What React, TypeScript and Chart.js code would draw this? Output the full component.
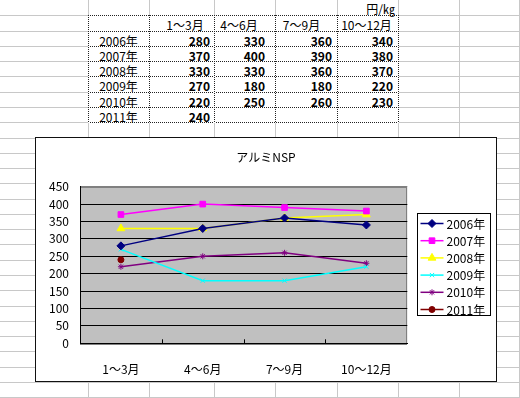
import React, { useEffect, useRef } from 'react';
import { Chart, registerables } from 'chart.js';
import { drawPoint } from 'chart.js/helpers';

Chart.register(...registerables);

// ---------- data ----------
const categories = ['1～3月', '4～6月', '7～9月', '10～12月'];
const years = ['2006年', '2007年', '2008年', '2009年', '2010年', '2011年'];
const v2006 = [280, 330, 360, 340];
const v2007 = [370, 400, 390, 380];
const v2008 = [330, 330, 360, 370];
const v2009 = [270, 180, 180, 220];
const v2010 = [220, 250, 260, 230];
const v2011 = [240, null, null, null];
const seriesValues = [v2006, v2007, v2008, v2009, v2010, v2011];
const seriesColors = ['#000080', '#FF00FF', '#FFFF00', '#00FFFF', '#800080', '#800000'];
const seriesMarkers = ['rectRot', 'rect', 'triangle', 'crossRot', 'star', 'circle'];
const markerRadii = [4, 4, 4.5, 3, 3, 3];
const yMin = 0;
const yMax = 450;
const yStep = 50;
const chartTitle = 'アルミNSP';
const unitLabel = '円/㎏';

// ---------- layout ----------
const FONT = '"Noto Sans CJK JP", "Noto Sans", sans-serif';
const colXs = [88, 149, 214, 275, 337, 398, 459, 519];
const rowYs = Array.from({ length: 26 }, (_, k) => Math.round((k + 1) * 15.28));
const headerCenters = [185, 239, 301.5, 366.5];
const valueRights = [210, 265, 332, 393];
const gridGray = '#c8c8c8';

const excelPlugin = {
  id: 'excelDecor',
  beforeDraw(chart: any) {
    const { ctx, chartArea: a } = chart;
    ctx.save();
    ctx.fillStyle = '#C0C0C0';
    ctx.fillRect(a.left, a.top, a.right - a.left, a.bottom - a.top);
    ctx.strokeStyle = '#808080';
    ctx.lineWidth = 1;
    ctx.strokeRect(Math.round(a.left) + 0.5, Math.round(a.top) + 0.5, Math.round(a.right - a.left) - 1, Math.round(a.bottom - a.top));
    ctx.restore();
  },
  afterDraw(chart: any) {
    const { ctx, chartArea: a } = chart;
    const xs = chart.scales.x;
    ctx.save();
    // inner tick marks between categories
    ctx.strokeStyle = '#000';
    ctx.lineWidth = 1;
    for (let i = 1; i < categories.length; i++) {
      const px = Math.round((xs.getPixelForValue(i - 1) + xs.getPixelForValue(i)) / 2) + 0.5;
      ctx.beginPath();
      ctx.moveTo(px, a.bottom);
      ctx.lineTo(px, a.bottom - 4);
      ctx.stroke();
    }
    // title
    ctx.fillStyle = '#000';
    ctx.font = `12px ${FONT}`;
    ctx.textAlign = 'center';
    ctx.textBaseline = 'middle';
    ctx.fillText(chartTitle, chart.width / 2, 19);
    // legend
    const lx = Math.round(a.right + 9.5) + 0.5;
    const ly = 75.5;
    const lw = 73;
    const lh = 102;
    ctx.fillStyle = '#fff';
    ctx.fillRect(lx, ly, lw, lh);
    ctx.strokeStyle = '#000';
    ctx.lineWidth = 1;
    ctx.strokeRect(lx, ly, lw, lh);
    chart.data.datasets.forEach((ds: any, i: number) => {
      const cy = ly + 10 + i * 17.2;
      ctx.strokeStyle = ds.borderColor;
      ctx.lineWidth = 1.5;
      ctx.beginPath();
      ctx.moveTo(lx + 3, cy);
      ctx.lineTo(lx + 26, cy);
      ctx.stroke();
      ctx.fillStyle = ds.pointBackgroundColor;
      ctx.strokeStyle = ds.pointBorderColor;
      ctx.lineWidth = 1;
      drawPoint(ctx, { pointStyle: ds.pointStyle, radius: ds.pointRadius, rotation: 0, borderWidth: 1 }, lx + 14.5, cy);
      ctx.fillStyle = '#000';
      ctx.font = `12px ${FONT}`;
      ctx.textAlign = 'left';
      ctx.textBaseline = 'middle';
      ctx.fillText(ds.label, lx + 29, cy + 0.5);
    });
    ctx.restore();
  },
};

function ChartBox() {
  const ref = useRef<HTMLCanvasElement | null>(null);
  useEffect(() => {
    if (!ref.current) return;
    const chart = new Chart(ref.current, {
      type: 'line',
      data: {
        labels: categories,
        datasets: seriesValues.map((data, i) => ({
          label: years[i],
          data,
          borderColor: seriesColors[i],
          backgroundColor: seriesColors[i],
          pointBackgroundColor: seriesColors[i],
          pointBorderColor: seriesColors[i],
          pointStyle: seriesMarkers[i] as any,
          pointRadius: markerRadii[i],
          pointBorderWidth: 1,
          borderWidth: 1.5,
          tension: 0,
          spanGaps: false,
        })),
      },
      options: {
        animation: false,
        responsive: false,
        maintainAspectRatio: false,
        layout: { padding: { top: 48.7, right: 88.7, left: 0, bottom: 0 } },
        plugins: {
          legend: { display: false },
          title: { display: false },
          tooltip: { enabled: false },
        },
        scales: {
          x: {
            type: 'category',
            offset: true,
            grid: { display: false },
            border: { display: true, color: '#000', width: 1 },
            ticks: { color: '#000', font: { family: FONT, size: 12 }, padding: 11, maxRotation: 0, autoSkip: false },
            afterFit: (s: any) => { s.height = 37.7; },
          },
          y: {
            min: yMin,
            max: yMax,
            grid: {
              drawTicks: false,
              color: (c: any) => (c.tick && c.tick.value === yMax ? '#808080' : '#000'),
              lineWidth: 1,
            },
            border: { display: true, color: '#000', width: 1 },
            ticks: { stepSize: yStep, color: '#000', font: { family: FONT, size: 12 }, padding: 11 },
            afterFit: (s: any) => { s.width = 44; },
          },
        },
      },
      plugins: [excelPlugin],
    } as any);
    return () => chart.destroy();
  }, []);
  return (
    <div
      style={{
        position: 'absolute',
        left: 35,
        top: 137,
        width: 462,
        height: 245,
        boxSizing: 'border-box',
        border: '1px solid #111',
        background: '#fff',
      }}
    >
      <canvas ref={ref} width={460} height={243} style={{ display: 'block', width: 460, height: 243 }} />
    </div>
  );
}

function Sheet() {
  const els: any[] = [];
  rowYs.forEach((y, i) =>
    els.push(<div key={'h' + i} style={{ position: 'absolute', left: 0, top: y, width: 520, height: 1, background: gridGray }} />)
  );
  colXs.forEach((x, i) =>
    els.push(<div key={'v' + i} style={{ position: 'absolute', left: x, top: 0, width: 1, height: 398, background: gridGray }} />)
  );
  const tLeft = colXs[0];
  const tRight = colXs[5];
  const tTop = rowYs[0];
  const tBottom = rowYs[7];
  const hDots = 'repeating-linear-gradient(to right, #222 0px, #222 1px, #fff 1px, #fff 2px)';
  const vDots = 'repeating-linear-gradient(to bottom, #222 0px, #222 1px, #fff 1px, #fff 2px)';
  for (let k = 0; k <= 7; k++) {
    els.push(
      <div key={'dh' + k} style={{ position: 'absolute', left: tLeft, top: rowYs[k], width: tRight - tLeft + 1, height: 1, background: hDots }} />
    );
  }
  for (let c = 0; c <= 5; c++) {
    els.push(
      <div key={'dv' + c} style={{ position: 'absolute', left: colXs[c], top: tTop, width: 1, height: tBottom - tTop + 1, background: vDots }} />
    );
  }
  const rowTop = (r: number) => (r === 0 ? 0 : rowYs[r - 1] + 1);
  const text: any = { position: 'absolute', fontFamily: FONT, fontSize: 12, lineHeight: '15px', height: 15, color: '#000', whiteSpace: 'nowrap' };
  // unit
  els.push(
    <div key="unit" style={{ ...text, left: colXs[4], width: 395 - colXs[4], top: rowTop(0) + 1, textAlign: 'right' }}>
      {unitLabel}
    </div>
  );
  // headers
  categories.forEach((c, i) =>
    els.push(
      <div key={'hd' + i} style={{ ...text, left: headerCenters[i] - 40, width: 80, top: rowTop(1) + 1, textAlign: 'center' }}>
        {c}
      </div>
    )
  );
  // rows
  years.forEach((yr, r) => {
    els.push(
      <div key={'yr' + r} style={{ ...text, left: colXs[0], width: colXs[1] - colXs[0], top: rowTop(r + 2) + 1, textAlign: 'center' }}>
        {yr}
      </div>
    );
    seriesValues[r].forEach((v, c) => {
      if (v === null) return;
      els.push(
        <div key={'val' + r + '-' + c} style={{ ...text, fontWeight: 700, left: valueRights[c] - 50, width: 50, top: rowTop(r + 2) + 1, textAlign: 'right' }}>
          {String(v)}
        </div>
      );
    });
  });
  return <>{els}</>;
}

export default function App() {
  return (
    <div style={{ position: 'fixed', left: 0, top: 0, width: 520, height: 398, overflow: 'hidden', background: '#fff' }}>
      <Sheet />
      <ChartBox />
    </div>
  );
}
